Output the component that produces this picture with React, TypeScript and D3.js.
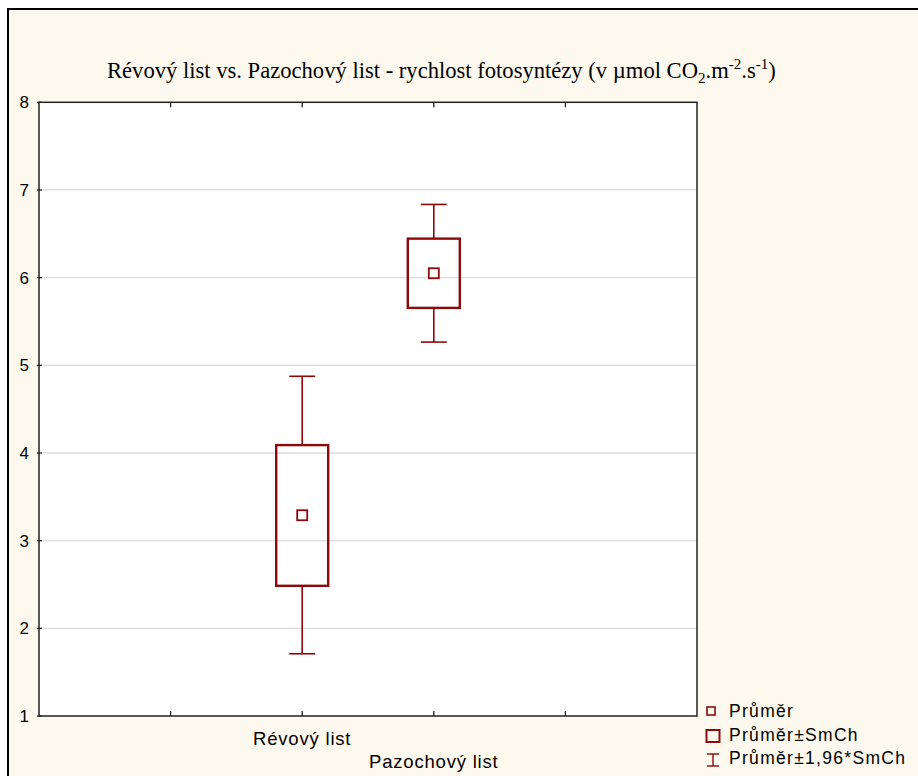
import React from "react";
import * as d3 from "d3";

// Photosynthesis rate by leaf type: mean, mean ± SE box, mean ± 1.96·SE whiskers
const categories = ["Révový list", "Pazochový list"];
const means = [3.29, 6.05];
const boxLow = [2.485, 5.655];
const boxHigh = [4.09, 6.445];
const whiskerLow = [1.71, 5.265];
const whiskerHigh = [4.875, 6.835];
const yTicks = [1, 2, 3, 4, 5, 6, 7, 8];
const legendLabels = ["Průměr", "Průměr±SmCh", "Průměr±1,96*SmCh"];

const W = 918;
const H = 776;
const plot = { left: 39, right: 697, top: 102.3, bottom: 716 };
const RED = "#8C0A0A";
const BG = "#FEF9EE";
const SANS = "'Liberation Sans', Arial, sans-serif";
const SERIF = "'Liberation Serif', 'Times New Roman', serif";

export default function App() {
  const x = d3
    .scalePoint<string>()
    .domain(categories)
    .range([plot.left, plot.right])
    .padding(2);
  const step = x.step();
  const frameTicks = d3.range(1, 5).map((i) => plot.left + i * step);
  const y = d3.scaleLinear().domain([1, 8]).range([plot.bottom, plot.top]);

  const boxW = 52;
  const capW = 26;
  const meanSize = 10;

  return (
    <div style={{ position: "absolute", left: 0, top: 0 }}>
      <svg width={W} height={H} style={{ display: "block" }}>
        <rect x={0} y={0} width={W} height={H} fill="#ffffff" />
        <rect x={8} y={9} width={W - 8} height={H - 9} fill={BG} />
        <line x1={7} x2={W} y1={9} y2={9} stroke="#000" strokeWidth={2} />
        <line x1={8} x2={8} y1={8} y2={H} stroke="#000" strokeWidth={2} />

        {/* title */}
        <text x={107} y={78} fontFamily={SERIF} fontSize={22.6} fill="#000">
          <tspan>Révový list vs. Pazochový list - rychlost fotosyntézy (v µmol CO</tspan>
          <tspan fontSize={15} dy={5}>2</tspan>
          <tspan dy={-5}>.m</tspan>
          <tspan fontSize={15} dy={-9}>-2</tspan>
          <tspan dy={9}>.s</tspan>
          <tspan fontSize={15} dy={-9}>-1</tspan>
          <tspan dy={9}>)</tspan>
        </text>

        {/* plot area */}
        <rect
          x={plot.left}
          y={plot.top}
          width={plot.right - plot.left}
          height={plot.bottom - plot.top}
          fill="#ffffff"
        />
        {yTicks
          .filter((v) => v > 1 && v < 8)
          .map((v) => (
            <line
              key={"g" + v}
              x1={plot.left + 4}
              x2={plot.right}
              y1={y(v)}
              y2={y(v)}
              stroke="#dcdcdc"
              strokeWidth={1.3}
            />
          ))}
        <rect
          x={plot.left}
          y={plot.top}
          width={plot.right - plot.left}
          height={plot.bottom - plot.top}
          fill="none"
          stroke="#222"
          strokeWidth={1.5}
        />
        {frameTicks.map((tx, i) => (
          <g key={"t" + i}>
            <line x1={tx} x2={tx} y1={plot.top} y2={plot.top + 5} stroke="#222" strokeWidth={1.3} />
            <line x1={tx} x2={tx} y1={plot.bottom} y2={plot.bottom - 5} stroke="#222" strokeWidth={1.3} />
          </g>
        ))}
        {yTicks.map((v) => (
          <g key={"y" + v}>
            <line x1={plot.left - 2} x2={plot.left + 3} y1={y(v)} y2={y(v)} stroke="#222" strokeWidth={1.3} />
            <text
              x={29}
              y={y(v) + 6}
              textAnchor="end"
              fontFamily={SANS}
              fontSize={17}
              fill="#000"
            >
              {v}
            </text>
          </g>
        ))}

        {/* category labels, staggered */}
        {categories.map((c, i) => (
          <text
            key={c}
            x={x(c)}
            y={745 + i * 23.3}
            textAnchor="middle"
            fontFamily={SANS}
            fontSize={18.5}
            letterSpacing={0.8}
            fill="#000"
          >
            {c}
          </text>
        ))}

        {/* boxes and whiskers */}
        {categories.map((c, i) => {
          const cx = x(c) as number;
          return (
            <g key={"b" + c}>
              <line x1={cx} x2={cx} y1={y(whiskerHigh[i])} y2={y(boxHigh[i])} stroke={RED} strokeWidth={1.6} />
              <line x1={cx} x2={cx} y1={y(boxLow[i])} y2={y(whiskerLow[i])} stroke={RED} strokeWidth={1.6} />
              <line
                x1={cx - capW / 2}
                x2={cx + capW / 2}
                y1={y(whiskerHigh[i])}
                y2={y(whiskerHigh[i])}
                stroke={RED}
                strokeWidth={1.6}
              />
              <line
                x1={cx - capW / 2}
                x2={cx + capW / 2}
                y1={y(whiskerLow[i])}
                y2={y(whiskerLow[i])}
                stroke={RED}
                strokeWidth={1.6}
              />
              <rect
                x={cx - boxW / 2}
                y={y(boxHigh[i])}
                width={boxW}
                height={y(boxLow[i]) - y(boxHigh[i])}
                fill="none"
                stroke={RED}
                strokeWidth={2.4}
              />
              <rect
                x={cx - meanSize / 2}
                y={y(means[i]) - meanSize / 2}
                width={meanSize}
                height={meanSize}
                fill="none"
                stroke={RED}
                strokeWidth={1.8}
              />
            </g>
          );
        })}

        {/* legend */}
        <rect x={707} y={707} width={8} height={8} fill="none" stroke={RED} strokeWidth={1.6} />
        <rect x={706.5} y={730} width={13} height={12} fill="none" stroke={RED} strokeWidth={2} />
        <line x1={713} x2={713} y1={754} y2={766} stroke={RED} strokeWidth={1.4} />
        <line x1={707} x2={719} y1={754} y2={754} stroke={RED} strokeWidth={1.4} />
        <line x1={707} x2={719} y1={766} y2={766} stroke={RED} strokeWidth={1.4} />
        {legendLabels.map((l, i) => (
          <text
            key={l}
            x={729}
            y={717 + i * 23.7}
            fontFamily={SANS}
            fontSize={17.5}
            letterSpacing={1.3}
            fill="#000"
          >
            {l}
          </text>
        ))}
      </svg>
    </div>
  );
}
